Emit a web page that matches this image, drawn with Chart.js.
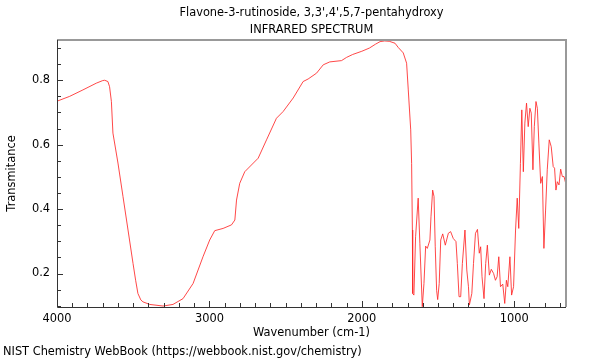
<!DOCTYPE html>
<html>
<head>
<meta charset="utf-8">
<script src="https://cdn.jsdelivr.net/npm/chart.js@4"></script>
<style>
  html, body { margin: 0; padding: 0; background: #fff; }
  #wrap { width: 600px; height: 360px; }
</style>
</head>
<body>
<div id="wrap"><canvas id="irChart" width="600" height="360"></canvas></div>
<script>
// spectrum (wavenumber cm-1, transmittance)
const wavenumbers = [
  4000, 3917, 3830, 3742, 3700, 3687, 3666, 3655, 3643, 3633, 3600, 3567, 3534, 3501, 3484, 3469, 3450, 3436,
  3392, 3304, 3239, 3173, 3107, 3042, 2998, 2965, 2910, 2855, 2833, 2822, 2801, 2768, 2680, 2625, 2560, 2516,
  2450, 2385, 2352, 2297, 2253, 2210, 2133, 2100, 2060, 2000, 1950, 1910, 1880, 1850, 1820, 1782, 1761, 1728, 1706,
  1695, 1679, 1673, 1668, 1666, 1658, 1647, 1630, 1619, 1603, 1592, 1581, 1570, 1553, 1546, 1535, 1526, 1518,
  1509, 1502, 1492, 1482, 1469, 1452, 1432, 1417, 1400, 1382, 1373, 1362, 1351, 1340, 1323, 1311, 1300, 1294,
  1278, 1267, 1254, 1241, 1229, 1220, 1211, 1198, 1187, 1176, 1163, 1150, 1135, 1123, 1112, 1101, 1090, 1075,
  1062, 1051, 1042, 1028, 1017, 1004, 991, 980, 970, 959, 950, 940, 930, 919, 908, 897, 888, 877, 868, 857,
  848, 838, 826, 815, 805, 794, 783, 770, 757, 744, 735, 726, 717, 706, 695, 684, 673, 662
];
const transmittance = [
  0.735, 0.750, 0.770, 0.791, 0.799, 0.800, 0.796, 0.780, 0.734, 0.636, 0.543, 0.439, 0.335, 0.231, 0.179, 0.138, 0.118, 0.112,
  0.104, 0.099, 0.104, 0.122, 0.169, 0.252, 0.304, 0.333, 0.340, 0.351, 0.366, 0.428, 0.480, 0.516, 0.558, 0.615, 0.682, 0.703,
  0.745, 0.796, 0.804, 0.822, 0.848, 0.857, 0.861, 0.871, 0.880, 0.890, 0.900, 0.912, 0.920, 0.922, 0.921, 0.915, 0.902, 0.885, 0.853,
  0.770, 0.646, 0.542, 0.335, 0.138, 0.133, 0.314, 0.434, 0.294, 0.097, 0.169, 0.285, 0.278, 0.304, 0.376, 0.459, 0.439, 0.283,
  0.148, 0.119, 0.169, 0.304, 0.323, 0.288, 0.325, 0.330, 0.309, 0.299, 0.231, 0.128, 0.128, 0.231, 0.335, 0.211, 0.159, 0.102,
  0.138, 0.231, 0.325, 0.337, 0.263, 0.283, 0.190, 0.122, 0.231, 0.288, 0.195, 0.213, 0.200, 0.179, 0.190, 0.252, 0.159, 0.167,
  0.107, 0.179, 0.159, 0.252, 0.133, 0.159, 0.335, 0.434, 0.340, 0.542, 0.708, 0.516, 0.667, 0.729, 0.656, 0.713, 0.698, 0.522, 0.656, 0.734,
  0.713, 0.605, 0.480, 0.501, 0.278, 0.397, 0.522, 0.615, 0.594, 0.532, 0.527, 0.459, 0.485, 0.475, 0.524, 0.501, 0.501, 0.480
];

// tick positions
const xTicks = [4000, 3900, 3800, 3700, 3600, 3500, 3400, 3300, 3200, 3100, 3000, 2900, 2800, 2700, 2600, 2500, 2400, 2300,
  2200, 2100, 2000, 1900, 1800, 1700, 1600, 1500, 1400, 1300, 1200, 1100, 1000, 900, 800, 700];
const xLabels = [4000, 3000, 2000, 1000];
const yTicks = [0.1, 0.15, 0.2, 0.25, 0.3, 0.35, 0.4, 0.45, 0.5, 0.55, 0.6, 0.65, 0.7, 0.75, 0.8, 0.85, 0.9];
const yLabels = [0.2, 0.4, 0.6, 0.8];

const titleLines = ["Flavone-3-rutinoside, 3,3',4',5,7-pentahydroxy", "INFRARED SPECTRUM"];
const footerText = "NIST Chemistry WebBook (https://webbook.nist.gov/chemistry)";

const FONT = "DejaVu Sans";
const FONT_SIZE = 11.4;

function isLabel(list, v) {
  return list.some(l => Math.abs(l - v) < 1e-6);
}

// frame, inward ticks, titles and footer
const decorPlugin = {
  id: "decor",
  afterDraw(chart) {
    const ctx = chart.ctx;
    const a = chart.chartArea;
    const xs = chart.scales.x;
    const ys = chart.scales.y;

    ctx.save();
    // gray top / right border
    ctx.strokeStyle = "#999";
    ctx.lineWidth = 2;
    ctx.beginPath();
    ctx.moveTo(a.left, a.top);
    ctx.lineTo(a.right, a.top);
    ctx.lineTo(a.right, a.bottom);
    ctx.stroke();

    // dark left / bottom axis
    ctx.strokeStyle = "#333";
    ctx.lineWidth = 1;
    ctx.beginPath();
    ctx.moveTo(a.left + 0.5, a.top);
    ctx.lineTo(a.left + 0.5, a.bottom + 0.5);
    ctx.lineTo(a.right, a.bottom + 0.5);
    ctx.stroke();

    // inward tick marks
    ctx.beginPath();
    xs.ticks.forEach(t => {
      const px = Math.round(xs.getPixelForValue(t.value)) + 0.5;
      const len = isLabel(xLabels, t.value) ? 6 : 4;
      ctx.moveTo(px, a.bottom);
      ctx.lineTo(px, a.bottom - len);
    });
    ys.ticks.forEach(t => {
      const py = Math.round(ys.getPixelForValue(t.value)) + 0.5;
      const len = isLabel(yLabels, t.value) ? 6 : 4;
      ctx.moveTo(a.left, py);
      ctx.lineTo(a.left + len, py);
    });
    ctx.stroke();

    // titles
    ctx.fillStyle = "#000";
    ctx.font = FONT_SIZE + "px '" + FONT + "'";
    ctx.textAlign = "center";
    ctx.textBaseline = "middle";
    const cx = (a.left + a.right) / 2;
    ctx.fillText(titleLines[0], cx, 13);
    ctx.fillText(titleLines[1], cx, 30);

    // footer
    ctx.textAlign = "left";
    ctx.fillText(footerText, 3, 352);
    ctx.restore();
  }
};

const points = wavenumbers.map((w, i) => ({ x: w, y: transmittance[i] }));

new Chart(document.getElementById("irChart"), {
  type: "line",
  data: {
    datasets: [{
      data: points,
      borderColor: "rgba(255, 40, 40, 0.85)",
      borderWidth: 1,
      pointRadius: 0,
      tension: 0,
      fill: false
    }]
  },
  options: {
    responsive: false,
    animation: false,
    devicePixelRatio: 1,
    layout: { padding: { left: 0, right: 34, top: 40, bottom: 20 } },
    plugins: {
      legend: { display: false },
      title: { display: false },
      tooltip: { enabled: false }
    },
    scales: {
      x: {
        type: "linear",
        reverse: true,
        min: 660,
        max: 4000,
        afterBuildTicks: s => { s.ticks = xTicks.map(v => ({ value: v })); },
        afterFit: s => { s.height = 33; },
        grid: { display: false, drawTicks: false },
        border: { display: false },
        ticks: {
          autoSkip: false,
          maxRotation: 0,
          padding: 5,
          color: "#000",
          font: { family: FONT, size: FONT_SIZE },
          callback: v => isLabel(xLabels, v) ? String(v) : ""
        },
        title: {
          display: true,
          text: "Wavenumber (cm-1)",
          color: "#000",
          font: { family: FONT, size: FONT_SIZE },
          padding: { top: 0, bottom: 0 }
        }
      },
      y: {
        min: 0.096,
        max: 0.925,
        afterBuildTicks: s => { s.ticks = yTicks.map(v => ({ value: v })); },
        afterFit: s => { s.width = 57; },
        grid: { display: false, drawTicks: false },
        border: { display: false },
        ticks: {
          autoSkip: false,
          padding: 7,
          color: "#000",
          font: { family: FONT, size: FONT_SIZE },
          callback: v => isLabel(yLabels, v) ? v.toFixed(1) : ""
        },
        title: {
          display: true,
          text: "Transmitance",
          color: "#000",
          font: { family: FONT, size: FONT_SIZE },
          padding: { top: 5, bottom: 0 }
        }
      }
    }
  },
  plugins: [decorPlugin]
});
</script>
</body>
</html>
